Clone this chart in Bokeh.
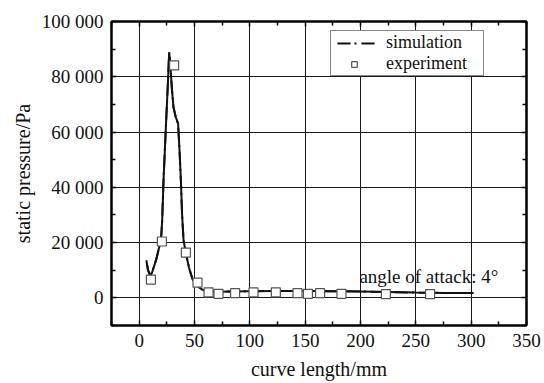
from bokeh.plotting import figure
from bokeh.models import (Range1d, LinearAxis, FixedTicker, Legend, LegendItem,
                          Label)
from bokeh.embed import file_html
from bokeh.resources import INLINE

# ---- data ----
sim_x = [6.5, 8, 9.8, 11.5, 13.5, 15.5, 18, 19.8, 20.8, 22, 24, 26, 27.1, 28.2,
         29.5, 31, 33, 35.2, 36.5, 37.7, 38.8, 40.1, 42, 45, 48, 51, 54, 57, 62,
         70, 85, 100, 125, 150, 175, 200, 225, 250, 275, 302]
sim_y = [13600, 10000, 8200, 9000, 11500, 14000, 18200, 21500, 28000, 42500,
         60600, 78000, 88900, 84000, 76000, 69000, 65500, 63000, 53000, 42500,
         30000, 20900, 16500, 11000, 7000, 5000, 3800, 3000, 2300, 2200, 2300,
         2400, 2500, 2500, 2400, 2300, 2100, 1900, 1800, 1800]

exp_x = [10.6, 20.5, 31.6, 42.2, 52.7, 62.7, 71.7, 86.7, 103.3, 123.5, 143.1,
         152.5, 163.5, 182.8, 222.9, 262.9]
exp_y = [6600, 20400, 84100, 16400, 5500, 2000, 1450, 1700, 1950, 1950, 1700,
         1450, 1700, 1450, 1340, 1340]

x_ticks = [0, 50, 100, 150, 200, 250, 300, 350]
x_tick_labels = ["0", "50", "100", "150", "200", "250", "300", "350"]
x_minor = [-25, 25, 75, 125, 175, 225, 275, 325]
y_ticks = [0, 20000, 40000, 60000, 80000, 100000]
y_tick_labels = ["0", "20 000", "40 000", "60 000", "80 000", "100 000"]
y_minor = [-10000, 10000, 30000, 50000, 70000, 90000]

series_names = ["simulation", "experiment"]
x_title = "curve length/mm"
y_title = "static pressure/Pa"
note_text = "angle of attack: 4°"

FONT = "serif"
TXT = "#111111"

p = figure(frame_width=415, frame_height=304, output_backend="svg",
           toolbar_location=None,
           x_range=Range1d(-25, 350), y_range=Range1d(-10000, 100000),
           min_border_left=111, min_border_right=18, min_border_top=21,
           min_border_bottom=58, x_axis_label=x_title, y_axis_label=y_title)
p.background_fill_color = "white"
p.border_fill_color = "white"
p.outline_line_color = "black"
p.outline_line_width = 2

# grids
p.xgrid.ticker = FixedTicker(ticks=x_ticks)
p.ygrid.ticker = FixedTicker(ticks=y_ticks)
for g in (p.xgrid, p.ygrid):
    g.grid_line_color = "#1a1a1a"
    g.grid_line_width = 1
    g.grid_line_alpha = 1


def style_axis(ax, show_labels):
    ax.axis_line_color = "black"
    ax.axis_line_width = 2
    ax.major_tick_in = 5
    ax.major_tick_out = 0
    ax.minor_tick_in = 4
    ax.minor_tick_out = 0
    ax.major_tick_line_color = "black"
    ax.minor_tick_line_color = "black"
    ax.major_tick_line_width = 1.5
    ax.minor_tick_line_width = 1.5
    ax.major_label_text_font = FONT
    ax.major_label_text_color = TXT
    ax.major_label_text_font_size = "19px"
    ax.major_label_standoff = 8 if show_labels else 0
    ax.axis_label_text_font = FONT
    ax.axis_label_text_font_size = "20px"
    ax.axis_label_text_font_style = "normal"
    ax.axis_label_text_color = TXT


xa = p.xaxis[0]
xa.ticker = FixedTicker(ticks=x_ticks, minor_ticks=x_minor)
xa.major_label_overrides = dict(zip(x_ticks, x_tick_labels))
style_axis(xa, True)
xa.axis_label_standoff = 8

ya = p.yaxis[0]
ya.ticker = FixedTicker(ticks=y_ticks, minor_ticks=y_minor)
ya.major_label_overrides = dict(zip(y_ticks, y_tick_labels))
style_axis(ya, True)
ya.axis_label_standoff = 5

top = LinearAxis(ticker=FixedTicker(ticks=x_ticks, minor_ticks=x_minor))
style_axis(top, False)
top.major_label_overrides = {t: "" for t in x_ticks}
p.add_layout(top, "above")
right = LinearAxis(ticker=FixedTicker(ticks=y_ticks, minor_ticks=y_minor))
style_axis(right, False)
right.major_label_overrides = {t: "" for t in y_ticks}
p.add_layout(right, "right")

# simulation curve (solid in the plot)
p.line(sim_x, sim_y, line_color="#111111", line_width=2)
# same curve drawn dash-dot on top; its style is what the legend shows
sim_r = p.line(sim_x, sim_y, line_color="#111111", line_width=2,
               line_dash="13 4 2 5", line_dash_offset=19)

exp_r = p.scatter(exp_x, exp_y, marker="square", size=9, fill_color="white",
                  line_color="#555555", line_width=1.2)

note = Label(x=199, y=7600, text=note_text, text_font=FONT,
             text_font_size="19px", text_color=TXT, text_baseline="alphabetic")
p.add_layout(note)

legend = Legend(items=[LegendItem(label=series_names[0], renderers=[sim_r]),
                       LegendItem(label=series_names[1], renderers=[exp_r])],
                location=(219, 249), padding=1, spacing=0, margin=0,
                glyph_width=44, glyph_height=14, label_height=14,
                label_width=96, label_standoff=10,
                label_text_font=FONT, label_text_font_size="18px",
                label_text_color=TXT,
                border_line_color="#111111", border_line_width=1.5,
                background_fill_color="white", background_fill_alpha=1)
p.add_layout(legend)

open("out.html", "w").write(file_html(p, INLINE))
